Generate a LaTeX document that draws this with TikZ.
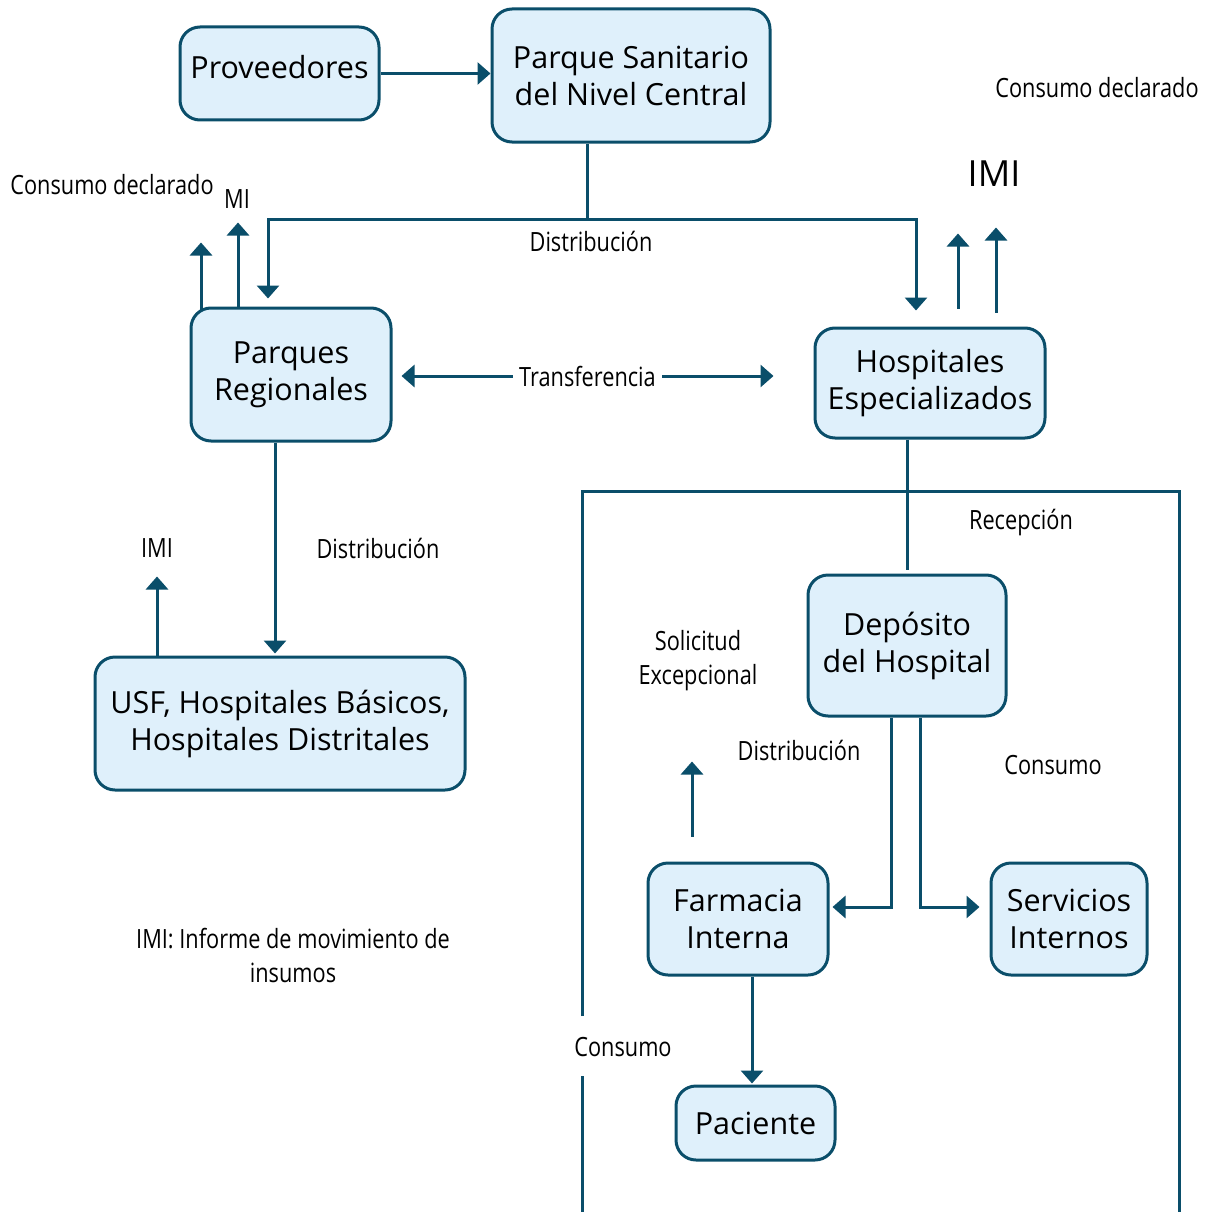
\documentclass[tikz,border=0pt]{standalone}
\usepackage{fontspec}
\setmainfont{Open Sans}
\newfontfamily\condfont[FakeStretch=0.82]{Open Sans}
\usetikzlibrary{arrows.meta,calc}
\definecolor{flowline}{RGB}{10,78,106}
\definecolor{flowfill}{RGB}{223,240,251}
\newcommand{\boxtxt}{\fontsize{30.5}{37}\selectfont}
\newcommand{\labtxt}{\condfont\fontsize{26.5}{34}\selectfont}

\begin{document}
\begin{tikzpicture}[x=1pt,y=-1pt,
  box/.style={rectangle,rounded corners=20pt,draw=flowline,fill=flowfill,
              line width=3pt,align=center,font=\boxtxt,inner sep=2pt},
  lab/.style={align=center,font=\labtxt,inner sep=1pt},
  link/.style={draw=flowline,line width=3pt},
  arr/.style={link,-{Triangle[width=22pt,length=13pt]}},
  arrr/.style={link,{Triangle[width=22pt,length=13pt]}-{Triangle[width=22pt,length=13pt]}}]
 \useasboundingbox (0,0) rectangle (1212,1212);

 \draw (279.5,73.5) node[box,minimum width=199pt,minimum height=93pt] (prov)
              {\raisebox{6pt}[\height][\depth]{Proveedores}};
 \draw (631,75.5)   node[box,minimum width=278pt,minimum height=133pt] (psnc)
              {Parque Sanitario\\del Nivel Central};
 \draw (291,374.5)  node[box,minimum width=200pt,minimum height=133pt] (preg)
              {Parques\\Regionales};
 \draw (930,383)    node[box,minimum width=230pt,minimum height=110pt] (hesp)
              {Hospitales\\Especializados};
 \draw (280,723.5)  node[box,minimum width=370pt,minimum height=133pt] (usf)
              {USF, Hospitales Básicos,\\Hospitales Distritales};
 \draw (907,645.5)  node[box,minimum width=198pt,minimum height=141pt] (dep)
              {Depósito\\del Hospital};
 \draw (738,919)    node[box,minimum width=180pt,minimum height=112pt] (farm)
              {Farmacia\\Interna};
 \draw (1069,919)   node[box,minimum width=156pt,minimum height=112pt] (serv)
              {Servicios\\Internos};
 \draw (755.5,1123) node[box,minimum width=159pt,minimum height=74pt] (pac)
              {Paciente};

 % marco del hospital
 \draw[link] (582,1016) -- (582,491) -- (1179,491) -- (1179,1212);
 \draw[link] (582,1076) -- (582,1212);

 \draw[arr] (prov.east) -- (prov.east -| psnc.west);

 \draw[link] ([xshift=-44pt]psnc.south) -- ++(0,76) coordinate (dist);
 \draw[arr] (dist) -| ([xshift=-23pt,yshift=8pt]preg.north);
 \draw[arr] (dist) -| ([xshift=-14pt,yshift=16pt]hesp.north);
 \draw (591,241) node[lab] (ldist1) {Distribución};

 \draw[arr] ([xshift=-90pt,yshift=-3pt]preg.north) -- ++(0,-67);
 \draw[arr] ([xshift=-53pt]preg.north) -- ++(0,-84);
 \draw (112,185) node[lab] (lcons1) {Consumo declarado};
 \draw (237,199) node[lab] (lmi)    {MI};

 \draw[arr] ([xshift=28pt,yshift=18pt]hesp.north) -- ++(0,-75);
 \draw[arr] ([xshift=66pt,yshift=14pt]hesp.north) -- ++(0,-85);
 \draw (994,174)  node[lab,font=\fontsize{36}{40}\selectfont] (limi1) {IMI};
 \draw (1097,88)  node[lab] (lcons2) {Consumo declarado};

 \draw[arrr] ($(preg.east)+(9,1.5)$) -- ($(preg.east -| hesp.west)+(-40,1.5)$)
    node[midway,lab,fill=white,inner xsep=6pt] (ltrans) {Transferencia};

 \draw[arr] ([xshift=-16pt]preg.south) -- ([xshift=-16pt,yshift=2pt]preg.south |- usf.north);
 \draw (378,548) node[lab] (ldist2) {Distribución};
 \draw[arr] ([xshift=-123pt]usf.north) -- ++(0,-79);
 \draw (157,548) node[lab] (limi2) {IMI};

 \draw (293,955) node[lab] (lleg) {IMI: Informe de movimiento de\\insumos};

 \draw[link] (hesp.south -| dep.north) -- ([yshift=4pt]dep.north);
 \draw (1021,523) node[lab] (lrec) {Recepción};

 \draw[arr] ([xshift=-16pt]dep.south) |- ($(farm.east)+(3,-12)$);
 \draw[arr] ([xshift=13pt]dep.south)  |- ($(serv.west)+(-10,-12)$);
 \draw (799,750)  node[lab] (ldist3) {Distribución};
 \draw (1053,765) node[lab] (lcons3) {Consumo};

 \draw[arr] ([xshift=-46pt,yshift=25pt]farm.north) -- ++(0,-75);
 \draw (698,661) node[lab] (lsol) {Solicitud\\Excepcional};

 \draw[arr] ([xshift=14pt]farm.south) -- ([xshift=14pt,yshift=1pt]farm.south |- pac.north);
 \draw (623,1047) node[lab] (lcons4) {Consumo};

\end{tikzpicture}
\end{document}
